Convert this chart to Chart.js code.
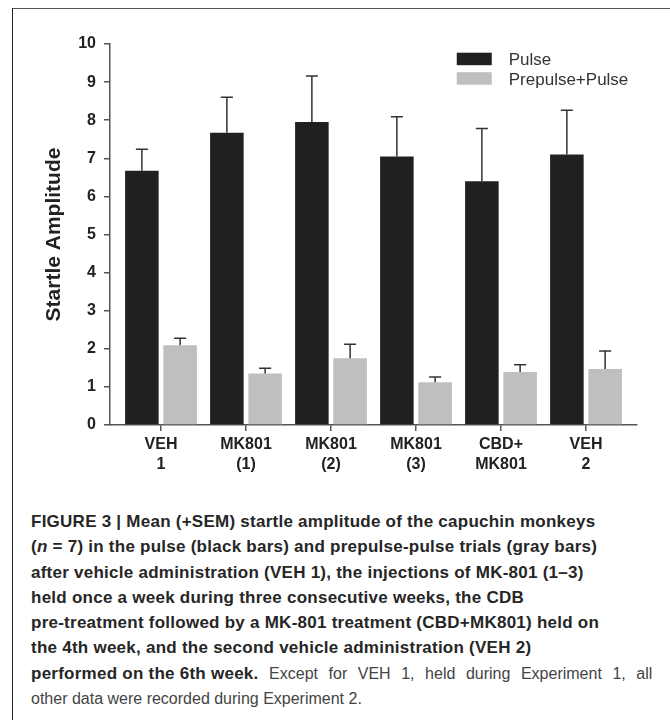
<!DOCTYPE html>
<html><head><meta charset="utf-8">
<script src="https://cdn.jsdelivr.net/npm/chart.js@4.4.1/dist/chart.umd.min.js"></script>
<style>
html,body{margin:0;padding:0;background:#fff;width:670px;height:720px;overflow:hidden;}
#frame{position:absolute;left:12px;top:8px;width:700px;height:760px;border-left:1.5px solid #222;border-top:1.5px solid #555;}
#wrap{position:absolute;left:0;top:0;width:670px;height:490px;}
#caption{position:absolute;left:31px;top:509px;font-family:'Liberation Sans',Arial,sans-serif;font-size:16px;line-height:25.3px;color:#444;white-space:nowrap;}
#caption b{font-weight:bold;color:#262626;font-size:17px;letter-spacing:0.25px;}
#caption .j{word-spacing:6.1px;}
</style></head><body>
<div id="frame"></div>
<div id="wrap"><canvas id="c"></canvas></div>
<div id="caption"><b>FIGURE 3 | Mean (+SEM) startle amplitude of the capuchin monkeys</b><br><b>(<i>n</i> = 7) in the pulse (black bars) and prepulse-pulse trials (gray bars)</b><br><b>after vehicle administration (VEH 1), the injections of MK-801 (1–3)</b><br><b>held once a week during three consecutive weeks, the CDB</b><br><b>pre-treatment followed by a MK-801 treatment (CBD+MK801) held on</b><br><b>the 4th week, and the second vehicle administration (VEH 2)</b><br><b>performed on the 6th week.</b><span class="j"> Except for VEH 1, held during Experiment 1, all</span><br>other data were recorded during Experiment 2.</div>
<script>
const categories = [['VEH','1'],['MK801','(1)'],['MK801','(2)'],['MK801','(3)'],['CBD+','MK801'],['VEH','2']];
const seriesNames = ['Pulse','Prepulse+Pulse'];
const pulseMean = [6.67, 7.67, 7.95, 7.05, 6.40, 7.10];
const pulseSem = [0.57, 0.93, 1.21, 1.04, 1.38, 1.16];
const prepulseMean = [2.09, 1.35, 1.75, 1.12, 1.39, 1.47];
const prepulseSem = [0.19, 0.14, 0.37, 0.14, 0.19, 0.47];
const yTickValues = [0,1,2,3,4,5,6,7,8,9,10];

const FONT = "'Liberation Sans', Arial, sans-serif";

const errorBars = {
  id: 'errorBars',
  afterDatasetsDraw(chart) {
    const ctx = chart.ctx, ys = chart.scales.y;
    chart.data.datasets.forEach((ds, di) => {
      const meta = chart.getDatasetMeta(di);
      meta.data.forEach((bar, i) => {
        const v = ds.data[i].y, e = ds.errors[i];
        const y0 = ys.getPixelForValue(v), y1 = ys.getPixelForValue(v + e);
        const half = bar.width * 0.18;
        ctx.save();
        ctx.strokeStyle = '#333';
        ctx.lineWidth = 1.5;
        ctx.beginPath();
        ctx.moveTo(bar.x, y0); ctx.lineTo(bar.x, y1);
        ctx.moveTo(bar.x - half, y1); ctx.lineTo(bar.x + half, y1);
        ctx.stroke();
        ctx.restore();
      });
    });
  }
};

const boxLegend = {
  id: 'boxLegend',
  afterDraw(chart) {
    const {ctx, chartArea: a} = chart;
    const w = a.right - a.left;
    const x0 = a.left + w * 0.658;
    const y0 = a.top + 8.7;
    const bw = 35, bh = 12.5, row = 19.5;
    ctx.save();
    chart.data.datasets.forEach((ds, i) => {
      const y = y0 + i * row;
      ctx.fillStyle = ds.backgroundColor;
      ctx.fillRect(x0, y, bw, bh);
      ctx.fillStyle = '#333';
      ctx.font = '17px ' + FONT;
      ctx.textBaseline = 'alphabetic';
      ctx.textAlign = 'left';
      ctx.fillText(ds.label, x0 + bw + 17, y + bh);
    });
    ctx.restore();
  }
};

new Chart(document.getElementById('c'), {
  type: 'bar',
  data: {
    datasets: [
      { label: seriesNames[0], data: pulseMean.map((y, i) => ({x: i, y})), errors: pulseSem, backgroundColor: '#221f1f' },
      { label: seriesNames[1], data: prepulseMean.map((y, i) => ({x: i, y})), errors: prepulseSem, backgroundColor: '#bfbfbf' }
    ]
  },
  options: {
    responsive: true,
    maintainAspectRatio: false,
    animation: false,
    categoryPercentage: 0.9,
    barPercentage: 0.877,
    layout: { padding: { left: 42, top: 44, right: 33, bottom: 15 } },
    plugins: { legend: { display: false }, tooltip: { enabled: false } },
    scales: {
      x: {
        type: 'linear',
        offset: false,
        min: -0.6, max: 5.6,
        afterBuildTicks: s => { s.ticks = categories.map((_, i) => ({ value: i })); },
        afterFit: s => { s.height = 50; },
        grid: { offset: false, drawOnChartArea: false, drawTicks: true, tickLength: 6, color: '#555', lineWidth: 1.5 },
        border: { display: true, color: '#555', width: 1.5 },
        ticks: {
          autoSkip: false, maxRotation: 0, padding: 4,
          color: '#222',
          font: { family: FONT, size: 16, weight: 'bold', lineHeight: 1.25 },
          callback: v => categories[v]
        }
      },
      y: {
        min: 0, max: 10,
        afterBuildTicks: s => { s.ticks = yTickValues.map(v => ({ value: v })); },
        afterFit: s => { s.width = 68; },
        grid: { drawOnChartArea: false, drawTicks: true, tickLength: 6, color: '#555', lineWidth: 1.5 },
        border: { display: true, color: '#555', width: 1.5 },
        ticks: { padding: 8, color: '#222', font: { family: FONT, size: 16, weight: 'bold' } },
        title: { display: true, text: 'Startle Amplitude', color: '#222', padding: 0,
          font: { family: FONT, size: 21, weight: 'bold' } }
      }
    }
  },
  plugins: [errorBars, boxLegend]
});
</script>
</body></html>
